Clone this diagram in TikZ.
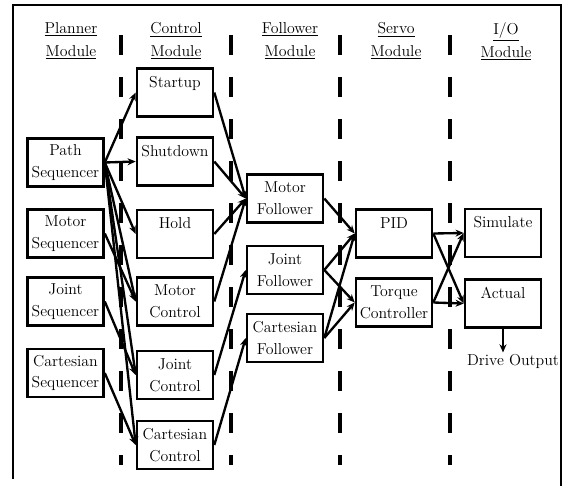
\documentclass[tikz,border=0pt]{standalone}
\usetikzlibrary{arrows.meta}
\begin{document}
\begin{tikzpicture}[x=0.03cm,y=-0.03cm,
    module/.style={shape=rectangle,draw=black,line width=2.2pt,minimum width=2.28cm,minimum height=1.44cm,inner sep=1pt,align=center,font=\fontsize{13.5}{18.5}\selectfont},
    heading/.style={align=center,inner sep=1pt,font=\fontsize{13.5}{19.5}\selectfont},
    divider/.style={line width=2.6pt,dash pattern=on 0.6cm off 0.66cm},
    link/.style={line width=2pt,-{Stealth[length=7pt,width=6pt]}}]
    \useasboundingbox (0,0) rectangle (568,488);
    % frame
    \draw[line width=2.2pt] (13,479) -- (13,5) -- (561,5) -- (561,486);

    % headings
    \node[heading] (planner) at (71,41) {\underline{Planner}\\\underline{Module}};
    \node[heading] (control) at (176,41) {\underline{Control}\\\underline{Module}};
    \node[heading] (follower) at (290,41) {\underline{Follower}\\\underline{Module}};
    \node[heading] (servo) at (396,41) {\underline{Servo}\\\underline{Module}};
    \node[heading] (io) at (506,41) {\underline{I/O}\\\underline{Module}};

    % dividers
    \foreach \x in {121,231,340,450}
        \draw[divider] (\x,35) -- (\x,465);

    % planner module
    \node[module] (pathseq) at (65.5,162.5) {Path\\Sequencer};
    \node[module] (motorseq) at (65.5,233.5) {Motor\\Sequencer};
    \node[module] (jointseq) at (65.5,301.5) {Joint\\Sequencer};
    \node[module] (cartseq) at (65.5,373) {Cartesian\\Sequencer};

    % control module
    \node[module] (startup) at (175,92.5) {Startup\\\mbox{}};
    \node[module] (shutdown) at (175,161.5) {Shutdown\\\mbox{}};
    \node[module] (hold) at (175,234) {Hold\\\mbox{}};
    \node[module] (motorctl) at (175,301.5) {Motor\\Control};
    \node[module] (jointctl) at (175,375) {Joint\\Control};
    \node[module] (cartctl) at (175,445) {Cartesian\\Control};

    % follower module
    \node[module] (motorfol) at (285,198.5) {Motor\\Follower};
    \node[module] (jointfol) at (285,270) {Joint\\Follower};
    \node[module] (cartfol) at (285,338) {Cartesian\\Follower};

    % servo module
    \node[module] (pid) at (394,233.5) {PID\\\mbox{}};
    \node[module] (torque) at (394,302.5) {Torque\\Controller};

    % i/o module
    \node[module] (simulate) at (503,233) {Simulate\\\mbox{}};
    \node[module] (actual) at (503,303.5) {Actual\\\mbox{}};
    \node[heading] (drive) at (513,361) {Drive Output};

    % planner -> control
    \path [link](pathseq.east) edge (startup.west);
    \path [link](pathseq.east) edge (shutdown.west);
    \path [link](pathseq.east) edge (hold.west);
    \path [link](pathseq.east) edge (motorctl.west);
    \path [link](pathseq.east) edge (jointctl.west);
    \path [link](pathseq.east) edge (cartctl.west);
    \path [link](motorseq.east) edge (motorctl.west);
    \path [link](jointseq.east) edge (jointctl.west);
    \path [link](cartseq.east) edge (cartctl.west);

    % control -> follower
    \path [link](startup.east) edge (motorfol.west);
    \path [link](shutdown.east) edge (motorfol.west);
    \path [link](hold.east) edge (motorfol.west);
    \path [link](motorctl.east) edge (motorfol.west);
    \path [link](jointctl.east) edge (jointfol.west);
    \path [link](cartctl.east) edge (cartfol.west);

    % follower -> servo
    \path [link](motorfol.east) edge (pid.west);
    \path [link](jointfol.east) edge (pid.west);
    \path [link](jointfol.east) edge (torque.west);
    \path [link](cartfol.east) edge (pid.west);
    \path [link](cartfol.east) edge (torque.west);

    % servo -> i/o
    \path [link](pid.east) edge (simulate.west);
    \path [link](pid.east) edge (actual.west);
    \path [link](torque.east) edge (simulate.west);
    \path [link](torque.east) edge (actual.west);
    \path [link](actual.south) edge (actual.south |- drive.north);
\end{tikzpicture}
\end{document}
